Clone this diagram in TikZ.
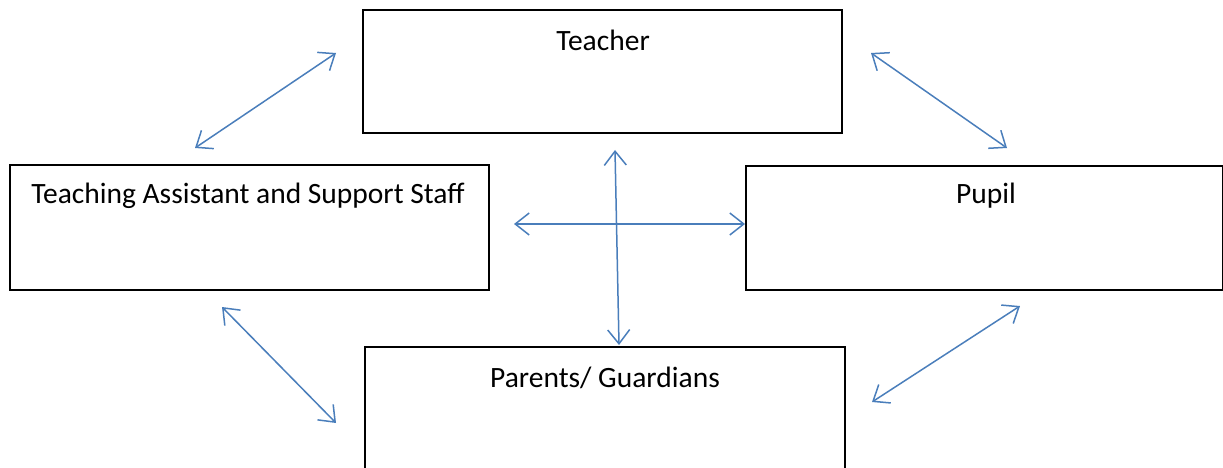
\documentclass[tikz,border=0pt]{standalone}
\usepackage{fontspec}
\setmainfont{Carlito}
\usetikzlibrary{arrows.meta}
\definecolor{arrowblue}{HTML}{4A7EBB}
\begin{document}
\begin{tikzpicture}[x=1pt,y=-1pt,
  box/.style={draw=black,line width=1.8pt},
  lbl/.style={font=\fontsize{29.5}{34}\selectfont,inner sep=0pt,anchor=center},
  link/.style={draw=arrowblue,line width=1.5pt,{Straight Barb[length=14pt,width=22pt,line width=1.5pt]}-{Straight Barb[length=14pt,width=22pt,line width=1.5pt]}}]
\useasboundingbox (0,0) rectangle (1223,468);
% boxes
\draw[box] (363,10) rectangle (842,133);
\draw[box] (10,165) rectangle (489,290);
\draw[box] (746,166) rectangle (1223,290);
\draw[box] (365,347) rectangle (845,475);
% labels
\node[lbl] (teacher) at (603,40) {Teacher};
\node[lbl] (ta) at (248,196) {Teaching Assistant and Support Staff};
\node[lbl] (pupil) at (986,196) {Pupil};
\node[lbl] (parents) at (605,378) {Parents/ Guardians};
% endpoints
\coordinate (a1) at (195,148); \coordinate (a2) at (336,53);
\coordinate (b1) at (871,53); \coordinate (b2) at (1007,148);
\coordinate (c1) at (615,150); \coordinate (c2) at (619,345);
\coordinate (d1) at (514,224); \coordinate (d2) at (745,224);
\coordinate (e1) at (222,307); \coordinate (e2) at (336,423);
\coordinate (f1) at (1020,306); \coordinate (f2) at (872,402);
\draw[link] (a1) -- (a2);
\draw[link] (b1) -- (b2);
\draw[link] (c1) -- (c2);
\draw[link] (d1) -- (d2);
\draw[link] (e1) -- (e2);
\draw[link] (f1) -- (f2);
\end{tikzpicture}
\end{document}
